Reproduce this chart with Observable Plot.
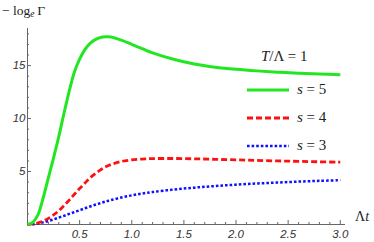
<!DOCTYPE html>
<html>
<head>
<meta charset="utf-8">
<script src="https://cdn.jsdelivr.net/npm/d3@7"></script>
<script src="https://cdn.jsdelivr.net/npm/@observablehq/plot@0.6"></script>
<style>
  body { margin: 0; background: #fff; }
  #wrap { position: relative; width: 374px; height: 242px; overflow: hidden; }
  .lbl, .leg { position: absolute; font-family: "Liberation Serif", "DejaVu Serif", serif; color: #222; white-space: nowrap; line-height: 1; }
  .lbl i, .leg i { font-style: italic; }
  .lbl sub { font-size: 0.7em; font-style: italic; vertical-align: -0.25em; line-height: 0; }
</style>
</head>
<body>
<div id="wrap"></div>
<script>
const t = [0,0.05,0.1,0.15,0.2,0.25,0.3,0.35,0.4,0.45,0.5,0.55,0.6,0.65,0.7,0.75,0.8,0.9,1.0,1.1,1.2,1.4,1.6,1.8,2.0,2.2,2.4,2.6,2.8,3.0];
const s5 = [0,0.2,0.9,2.5,4.4,6.3,8.3,10.5,12.6,14.4,15.6,16.5,17.1,17.45,17.65,17.72,17.7,17.4,17.0,16.6,16.2,15.6,15.15,14.85,14.65,14.5,14.38,14.28,14.2,14.13];
const s4 = [0,0.05,0.15,0.33,0.58,0.9,1.3,1.78,2.3,2.85,3.4,3.9,4.4,4.8,5.15,5.45,5.65,5.95,6.1,6.18,6.22,6.23,6.2,6.15,6.1,6.05,6.0,5.96,5.92,5.88];
const s3 = [0,0.03,0.1,0.2,0.33,0.48,0.65,0.82,1.0,1.17,1.35,1.52,1.7,1.86,2.02,2.17,2.3,2.55,2.75,2.92,3.06,3.3,3.48,3.63,3.76,3.87,3.96,4.05,4.12,4.18];
const seriesNames = ["s = 5", "s = 4", "s = 3"];
const xMajor = [0.5,1.0,1.5,2.0,2.5,3.0];
const xMinor = d3.range(1, 31).map(i => i / 10).filter(v => Math.abs(v * 2 - Math.round(v * 2)) > 1e-6);
const yMajor = [5,10,15];
const yMinor = [1,2,3,4,6,7,8,9,11,12,13,14,16,17,18];

const W = 374, H = 242, mL = 27, mR = 29, mT = 28, mB = 18;
const fw = W - mL - mR, fh = H - mT - mB;
const axisCol = "#666";
const colors = ["#22e622", "#ff1010", "#1010ff"];
const dashes = [null, "6,3", "2.6,2"];
const widths = [3, 2.8, 2.5];

const rows = (vals) => t.map((x, i) => ({x, y: vals[i]}));

const chart = Plot.plot({
  width: W, height: H,
  marginLeft: mL, marginRight: mR, marginTop: mT, marginBottom: mB,
  x: {domain: [0, 3.05]},
  y: {domain: [0, 18.5]},
  style: {background: "#fff"},
  marks: [
    Plot.ruleY([0], {stroke: axisCol, strokeWidth: 1}),
    Plot.ruleX([0], {stroke: axisCol, strokeWidth: 1}),
    Plot.tickX(xMajor, {stroke: axisCol, insetTop: fh - 4}),
    Plot.tickX(xMinor, {stroke: axisCol, insetTop: fh - 2}),
    Plot.tickY(yMajor, {stroke: axisCol, insetRight: fw - 4}),
    Plot.tickY(yMinor, {stroke: axisCol, insetRight: fw - 2}),
    Plot.axisX(xMajor, {tickSize: 0, tickPadding: 5, tickFormat: d3.format(".1f"), fontStyle: "italic", fontSize: 11.5, fill: "#333", fontFamily: "Liberation Sans, Arial, sans-serif", label: null}),
    Plot.axisY(yMajor, {tickSize: 0, tickPadding: 2, fontStyle: "italic", fontSize: 11.5, fill: "#333", fontFamily: "Liberation Sans, Arial, sans-serif", label: null}),
    Plot.line(rows(s3), {x: "x", y: "y", stroke: colors[2], strokeWidth: widths[2], strokeDasharray: dashes[2], strokeLinecap: "butt", curve: "catmull-rom"}),
    Plot.line(rows(s4), {x: "x", y: "y", stroke: colors[1], strokeWidth: widths[1], strokeDasharray: dashes[1], strokeLinecap: "butt", curve: "catmull-rom"}),
    Plot.line(rows(s5), {x: "x", y: "y", stroke: colors[0], strokeWidth: widths[0], strokeLinecap: "butt", curve: "catmull-rom"})
  ]
});

const wrap = document.getElementById("wrap");
wrap.appendChild(chart);

function addLabel(html, left, top, size, cls) {
  const d = document.createElement("div");
  d.className = cls || "lbl";
  d.style.left = left + "px";
  d.style.top = top + "px";
  if (size) d.style.fontSize = size + "px";
  d.innerHTML = html;
  wrap.appendChild(d);
  return d;
}
addLabel("&minus; log<sub>e</sub>&thinsp;&Gamma;", 2, 4, 13.5);
addLabel("&Lambda;<i>t</i>", 355, 210, 14);

// legend
addLabel("<i>T</i>/&Lambda; = 1", 261, 49, 15, "leg");
const rowY = [90, 118, 146];
seriesNames.forEach((name, i) => {
  const svgNS = "http://www.w3.org/2000/svg";
  const sw = document.createElementNS(svgNS, "svg");
  sw.setAttribute("width", 44); sw.setAttribute("height", 8);
  sw.style.position = "absolute";
  sw.style.left = "246px";
  sw.style.top = (rowY[i] - 4) + "px";
  const ln = document.createElementNS(svgNS, "line");
  ln.setAttribute("x1", 1); ln.setAttribute("x2", 43);
  ln.setAttribute("y1", 4); ln.setAttribute("y2", 4);
  ln.setAttribute("stroke", colors[i]);
  ln.setAttribute("stroke-width", widths[i]);
  if (dashes[i]) ln.setAttribute("stroke-dasharray", dashes[i]);
  sw.appendChild(ln);
  wrap.appendChild(sw);
  const parts = name.split(" = ");
  addLabel("<i>" + parts[0] + "</i> = " + parts[1], 297, rowY[i] - 8, 15, "leg");
});
</script>
</body>
</html>
